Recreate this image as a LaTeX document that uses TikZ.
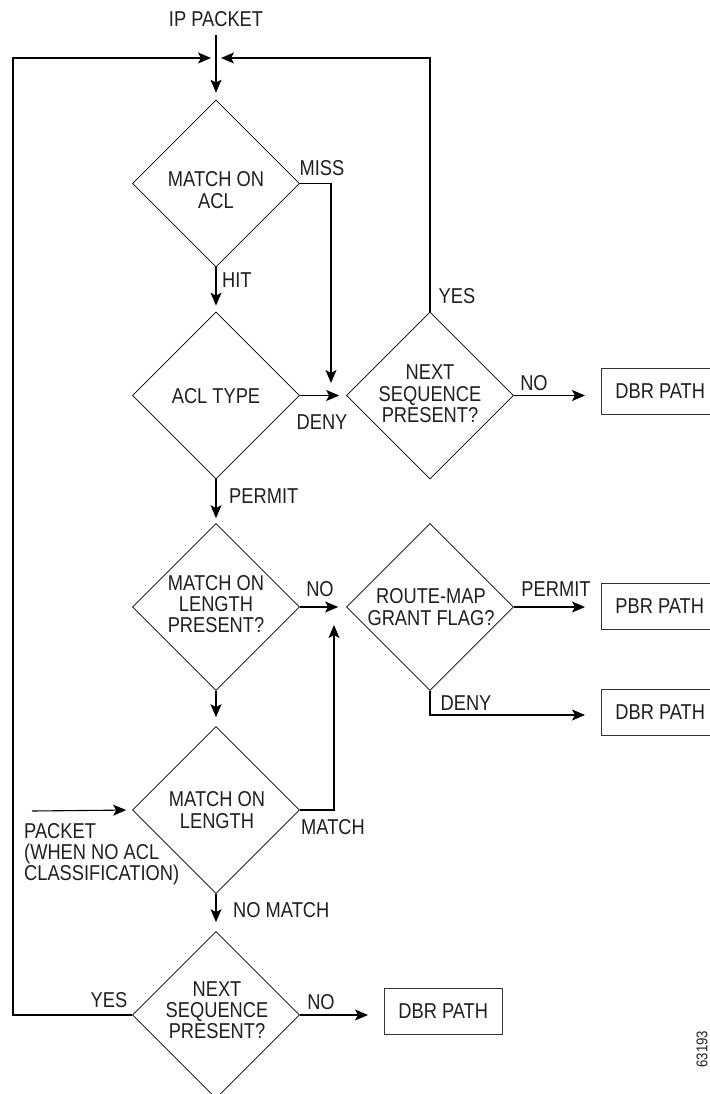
\documentclass[tikz,border=0pt]{standalone}
\usepackage{fontspec}
\setmainfont{Liberation Sans}[FakeStretch=0.85]
\usetikzlibrary{shapes.geometric,arrows.meta}
\newcommand\flowfont{\fontsize{21.5}{21.3}\selectfont}
\newcommand\tagfont{\fontsize{15.5}{16}\selectfont}
\begin{document}
\begin{tikzpicture}[x=1pt,y=-1pt,
  dia/.style={draw, diamond, aspect=1, minimum width=167pt, minimum height=167pt,
              inner sep=0pt, line width=0.7pt},
  txt/.style={align=center, inner sep=0pt, font=\flowfont, text=black!88},
  lbl/.style={inner sep=0pt, font=\flowfont, text=black!88},
  pathbox/.style={draw=black!80, line width=0.8pt, minimum height=46pt,
                  inner xsep=14pt, inner ysep=0pt, font=\flowfont, text=black!88},
  arr/.style={-{Stealth[length=13pt,width=11pt,inset=3pt]}, line width=1.1pt},
  link/.style={line width=1.1pt}]
\fill[white] (0,0) rectangle (709,1094);
\useasboundingbox (0,0) rectangle (709,1094);

% decision diamonds
\node[dia] (d1) at (216,183.5) {};
\node[dia] (d2) at (216,395.5) {};
\node[dia] (d3) at (430,395.5) {};
\node[dia] (d4) at (216,607) {};
\node[dia] (rm) at (430,607) {};
\node[dia] (d5) at (216,810) {};
\node[dia] (d6) at (216,1015) {};

% diamond texts
\node[txt] (d1t) at (216,190) {MATCH ON\\ACL};
\node[txt] (d2t) at (216,396) {ACL TYPE};
\node[txt] (d3t) at (430,394) {NEXT\\SEQUENCE\\PRESENT?};
\node[txt] (d4t) at (216,604) {MATCH ON\\LENGTH\\PRESENT?};
\node[txt] (rmt) at (431,607) {ROUTE-MAP\\GRANT FLAG?};
\node[txt] (d5t) at (217,810) {MATCH ON\\LENGTH};
\node[txt] (d6t) at (217,1010) {NEXT\\SEQUENCE\\PRESENT?};

% result boxes
\node[pathbox, anchor=west] (dbr1) at (601,391.5) {DBR PATH};
\node[pathbox, anchor=west] (pbr) at (601,606) {PBR PATH};
\node[pathbox, anchor=west] (dbr2) at (601,712) {DBR PATH};
\node[pathbox, anchor=west] (dbr3) at (384,1011) {DBR PATH};

% free texts
\node[lbl] (ip) at (216,19) {IP PACKET};
\node[lbl] (miss) at (322,168) {MISS};
\node[lbl, anchor=west] (hit) at (222,280) {HIT};
\node[lbl] (yes1) at (457,296) {YES};
\node[lbl] (deny1) at (322,422) {DENY};
\node[lbl] (no1) at (534,383) {NO};
\node[lbl, anchor=west] (permit1) at (229,496) {PERMIT};
\node[lbl] (no2) at (320,589) {NO};
\node[lbl] (permit2) at (556,589) {PERMIT};
\node[lbl] (deny2) at (466,703) {DENY};
\node[lbl] (match) at (333,827) {MATCH};
\node[lbl, anchor=west] (nomatch) at (233,910) {NO MATCH};
\node[lbl] (yes2) at (109,1000) {YES};
\node[lbl] (no3) at (321,1002) {NO};
\node[txt, align=left, anchor=north west] (pkt) at (24,823)
  {PACKET\\(WHEN NO ACL\\CLASSIFICATION)};
\node[inner sep=0pt, rotate=90, font=\tagfont, text=black!88] (tag) at (702,1049) {63193};

% connector end points
\coordinate (ipbot) at (216,35);
\coordinate (jl) at (211,58);
\coordinate (jr) at (221,58);
\coordinate (looptl) at (13,58);
\coordinate (missend) at (331,383);
\coordinate (denyend) at (585,715);
\coordinate (matchend) at (334,625);
\coordinate (pktstart) at (32,811);

% connectors
\draw[arr, shorten >=7pt] (ipbot) -- (d1.north);
\draw[arr] (d1.east) -| (missend);
\draw[arr, shorten >=6pt] (d1.south) -- (d2.north);
\draw[arr, shorten >=7pt] (d2.east) -- (d3.west);
\draw[arr] (d3.north) |- (jr);
\draw[arr, shorten >=16pt] (d3.east) -- (d3.east -| dbr1.west);
\draw[arr, shorten >=5pt] (d2.south) -- (d4.north);
\draw[arr, shorten >=8pt] (d4.east) -- (rm.west);
\draw[arr, shorten >=16pt] (rm.east) -- (rm.east -| pbr.west);
\draw[arr] (rm.south) |- (denyend);
\draw[arr, shorten >=9pt] (d4.south) -- (d5.north);
\draw[arr] (d5.east) -| (matchend);
\draw[arr, shorten >=6pt] (pktstart) -- (d5.west);
\draw[arr, shorten >=9pt] (d5.south) -- (d6.north);
\draw[arr] (d6.west) -| (looptl) -- (jl);
\draw[arr, shorten >=16pt] (d6.east) -- (d6.east -| dbr3.west);
\end{tikzpicture}
\end{document}
